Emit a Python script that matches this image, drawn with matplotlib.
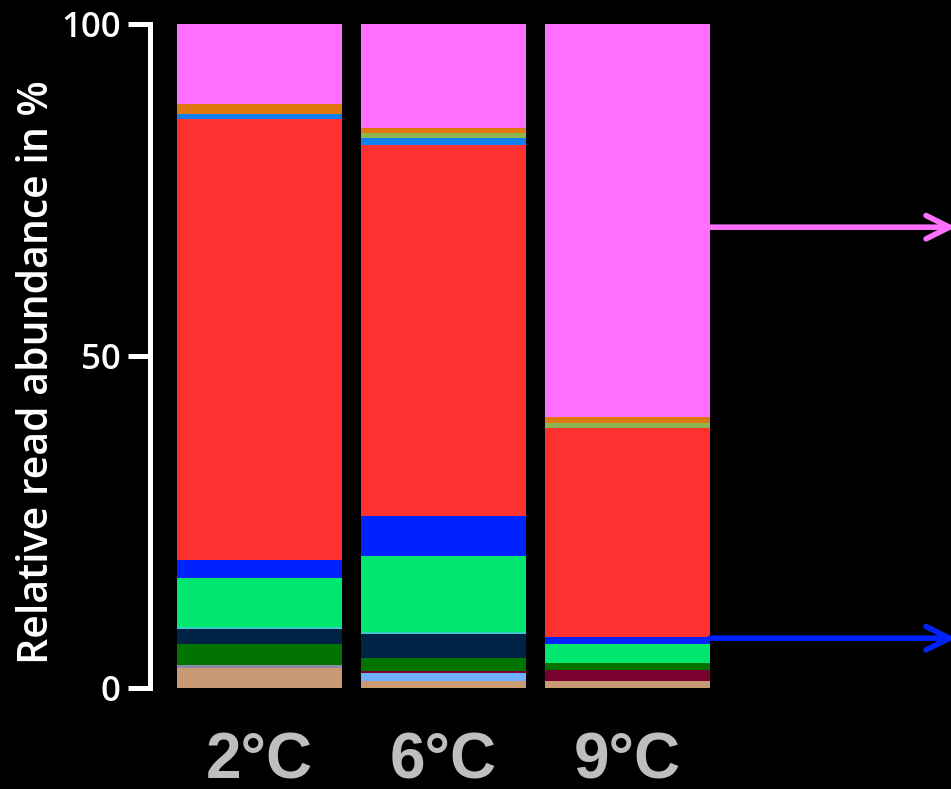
import matplotlib.pyplot as plt
import numpy as np

plt.rcParams['font.family'] = ['Open Sans', 'DejaVu Sans']

samples = ["2°C", "6°C", "9°C"]

# relative read abundance (%) per taxon, stacked bottom to top
tan = [3.0, 1.1, 1.1]
lavender = [0.4, 0.0, 0.0]
pale_blue = [0.0, 1.1, 0.0]
maroon = [0.0, 0.3, 1.65]
dark_green = [3.2, 2.0, 0.95]
navy = [2.3, 3.6, 0.0]
cyan = [0.3, 0.3, 0.0]
bright_green = [7.3, 11.5, 2.9]
blue = [2.8, 6.0, 1.1]
red = [66.4, 55.9, 31.4]
light_blue = [0.8, 1.0, 0.0]
olive = [0.0, 0.75, 0.85]
orange = [1.5, 0.75, 0.85]
pink = [12.0, 15.7, 59.2]

layers = [
    (tan, "#C99B74"),
    (lavender, "#8E8AA8"),
    (pale_blue, "#70B0FF"),
    (maroon, "#7A0030"),
    (dark_green, "#007300"),
    (navy, "#002244"),
    (cyan, "#3CC8C8"),
    (bright_green, "#00E86E"),
    (blue, "#0022FF"),
    (red, "#FF3030"),
    (light_blue, "#1080F0"),
    (olive, "#8CB450"),
    (orange, "#E07810"),
    (pink, "#FF70FF"),
]

# highlighted taxa in the 9°C sample
pink_arrow_y = 69.4
blue_arrow_y = 7.5

fig = plt.figure(figsize=(9.51, 7.89), dpi=100, facecolor="black")
ax = fig.add_axes([0.1577, 0.128, 0.8423, 0.8416])
ax.set_facecolor("black")

x = np.arange(len(samples))
bottom = np.zeros(len(samples))
for values, color in layers:
    ax.bar(x, values, width=0.9, bottom=bottom, color=color, linewidth=0)
    bottom += np.array(values)

ax.set_xlim(-0.595, 3.76)
ax.set_ylim(0, 100)

for y, color in [(pink_arrow_y, "#FF70FF"), (blue_arrow_y, "#0022FF")]:
    ax.annotate("", xy=(3.785, y), xytext=(2.45, y),
                arrowprops=dict(arrowstyle="->", color=color, lw=4,
                                mutation_scale=42, shrinkA=0, shrinkB=0),
                annotation_clip=False)

for side in ["top", "right", "bottom"]:
    ax.spines[side].set_visible(False)
ax.spines["left"].set_color("white")
ax.spines["left"].set_linewidth(3.6)

ax.set_yticks([0, 50, 100])
ax.tick_params(axis="y", colors="white", length=16, width=3.6, pad=5)
for lbl in ax.get_yticklabels():
    lbl.set_fontsize(25)
    lbl.set_fontweight("semibold")

ax.set_xticks(x)
ax.set_xticklabels(samples, family="Liberation Sans", fontweight="bold",
                   fontsize=46, color="#BEBEBE")
ax.tick_params(axis="x", length=0, pad=31)

ax.set_ylabel("Relative read abundance in %", color="white", fontsize=29.5,
              fontweight="semibold")
ax.yaxis.set_label_coords(-0.115, 0.476)

fig.savefig("out.png", dpi=100, facecolor="black")
